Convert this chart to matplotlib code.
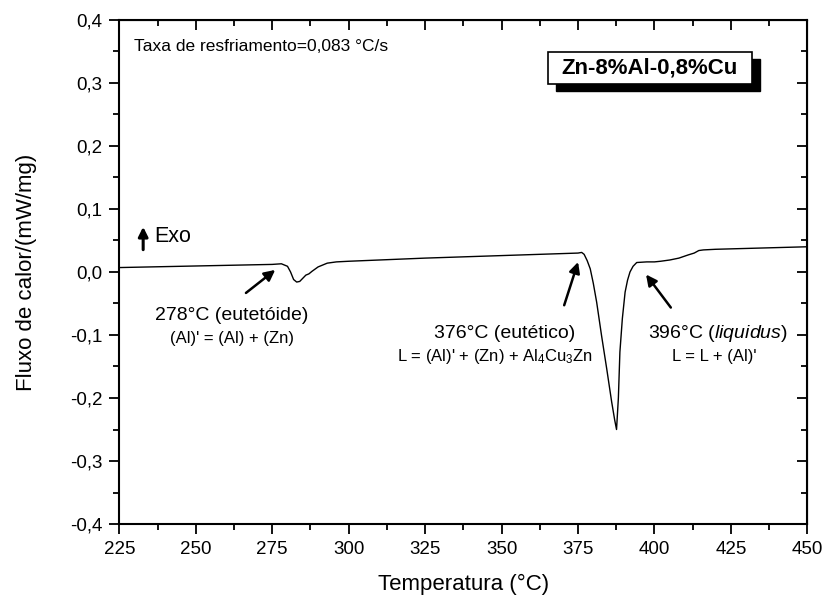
import matplotlib
matplotlib.use('Agg')
import matplotlib.pyplot as plt
from matplotlib.patches import Rectangle
from matplotlib.ticker import MultipleLocator, FuncFormatter

plt.rcParams['font.family'] = ['Liberation Sans', 'DejaVu Sans']
plt.rcParams['mathtext.fontset'] = 'custom'
plt.rcParams['mathtext.rm'] = 'Liberation Sans'
plt.rcParams['mathtext.it'] = 'Liberation Sans:italic'

# DSC cooling curve
temperature = [225, 250, 275, 278, 280, 281, 282, 283, 284, 285, 286, 287, 288, 290, 293,
               296, 300, 325, 350, 375, 376.2, 377, 378, 379, 380, 381.1, 382.7, 384.4,
               386.0, 387.0, 387.6, 388.2, 388.7, 389.5, 390.4, 391.2, 392.0, 393, 394.2,
               397.5, 400, 402, 405, 408, 411, 413, 414.5, 416, 420, 450]
heat_flow = [0.007, 0.0095, 0.012, 0.013, 0.009, 0.0, -0.012, -0.016, -0.015, -0.010,
             -0.005, -0.003, 0.001, 0.008, 0.014, 0.016, 0.017, 0.022, 0.026, 0.030, 0.031,
             0.028, 0.018, 0.005, -0.018, -0.048, -0.101, -0.154, -0.206, -0.235, -0.250,
             -0.200, -0.127, -0.074, -0.032, -0.013, 0.000, 0.009, 0.015, 0.016, 0.016,
             0.017, 0.019, 0.022, 0.027, 0.030, 0.034, 0.035, 0.036, 0.040]

x_ticks = [225, 250, 275, 300, 325, 350, 375, 400, 425, 450]
y_ticks = [-0.4, -0.3, -0.2, -0.1, 0.0, 0.1, 0.2, 0.3, 0.4]

fig = plt.figure(figsize=(8.24, 5.98), dpi=100)
ax = fig.add_axes([0.1448, 0.1237, 0.8350, 0.843])

ax.plot(temperature, heat_flow, color='black', linewidth=1.0)

ax.set_xlim(225, 450)
ax.set_ylim(-0.4, 0.4)
ax.set_xticks(x_ticks)
ax.set_yticks(y_ticks)
ax.xaxis.set_minor_locator(MultipleLocator(12.5))
ax.yaxis.set_minor_locator(MultipleLocator(0.05))
ax.yaxis.set_major_formatter(FuncFormatter(lambda v, p: f'{v:.1f}'.replace('.', ',').replace('-0,0', '0,0')))

ax.tick_params(which='both', direction='out', width=1.3, labelsize=13.5, pad=5)
ax.tick_params(which='major', length=7)
ax.tick_params(which='minor', length=4)
for s in ax.spines.values():
    s.set_linewidth(1.5)

# top and right ticks point inwards
top = ax.secondary_xaxis('top')
top.set_xticks(x_ticks)
top.xaxis.set_minor_locator(MultipleLocator(12.5))
top.tick_params(which='both', direction='in', width=1.3, labeltop=False)
top.tick_params(which='major', length=7)
top.tick_params(which='minor', length=4)
right = ax.secondary_yaxis('right')
right.set_yticks(y_ticks)
right.yaxis.set_minor_locator(MultipleLocator(0.05))
right.tick_params(which='both', direction='in', width=1.3, labelright=False)
right.tick_params(which='major', length=7)
right.tick_params(which='minor', length=4)

ax.set_xlabel('Temperatura (°C)', fontsize=16, labelpad=12)
ax.set_ylabel('Fluxo de calor/(mW/mg)', fontsize=16, labelpad=24)

# annotations
ax.text(229.7, 0.358, 'Taxa de resfriamento=0,083 °C/s', fontsize=12.5, va='center')

ax.add_patch(Rectangle((0.6346, 0.8585), 0.2965, 0.0647, transform=ax.transAxes,
                       facecolor='black', edgecolor='black', zorder=4))
ax.add_patch(Rectangle((0.623, 0.8724), 0.2965, 0.0647, transform=ax.transAxes,
                       facecolor='white', edgecolor='black', lw=1.2, zorder=5))
ax.text(0.7712, 0.9048, 'Zn-8%Al-0,8%Cu', transform=ax.transAxes, fontsize=16,
        fontweight='bold', ha='center', va='center', zorder=6)

ax.annotate('', xy=(232.8, 0.076), xytext=(232.8, 0.031),
            arrowprops=dict(arrowstyle='-|>', color='black', lw=2.2, mutation_scale=14))
ax.text(236.5, 0.056, 'Exo', fontsize=15.5, va='center')

arrow = dict(arrowstyle='-|>', color='black', lw=1.8, mutation_scale=16)
ax.annotate('', xy=(276.7, 0.006), xytext=(265.7, -0.036), arrowprops=arrow)
ax.annotate('', xy=(375.3, 0.020), xytext=(370.2, -0.057), arrowprops=arrow)
ax.annotate('', xy=(396.7, -0.0005), xytext=(405.9, -0.060), arrowprops=arrow)

ax.text(261.9, -0.069, '278°C (eutetóide)', fontsize=14, ha='center', va='center')
ax.text(261.9, -0.106, "(Al)' = (Al) + (Zn)", fontsize=12, ha='center', va='center')
ax.text(351.0, -0.098, '376°C (eutético)', fontsize=14, ha='center', va='center')
ax.text(348.0, -0.134, "L = (Al)' + (Zn) + Al$_4$Cu$_3$Zn", fontsize=12,
        ha='center', va='center')
ax.text(420.8, -0.098, '396°C ($\\it{liquidus}$)', fontsize=14, ha='center', va='center')
ax.text(419.6, -0.134, "L = L + (Al)'", fontsize=12, ha='center', va='center')

fig.savefig('out.png', dpi=100)
